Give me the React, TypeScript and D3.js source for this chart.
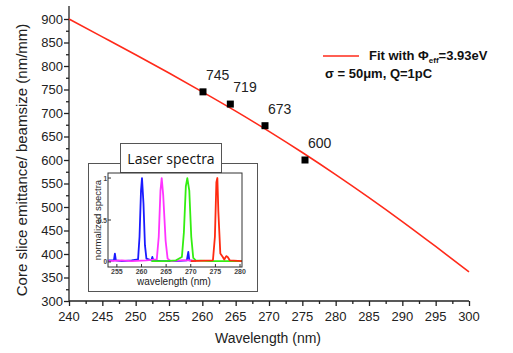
import { useEffect, useRef } from 'react';
import * as d3 from 'd3';

// measured points: wavelength (nm) -> emittance/beamsize (nm/mm)
const pointWavelengths = [260.1, 264.2, 269.4, 275.4];
const pointValues = [745, 719, 673, 600];
const pointLabels = ['745', '719', '673', '600'];

// fit curve
const fitWavelengths = [240, 245, 250, 255, 260, 265, 270, 275, 280, 285, 290, 295, 300];
const fitValues = [900, 862, 824, 785, 745, 704, 661, 616, 569, 520, 469, 416, 362];

const xTicks = [240, 245, 250, 255, 260, 265, 270, 275, 280, 285, 290, 295, 300];
const yTicks = [300, 350, 400, 450, 500, 550, 600, 650, 700, 750, 800, 850, 900];

// inset spectra, [wavelength, normalized intensity]
const blueSpectrum: [number, number][] = [
  [253.3, 0.02], [254.4, 0.02], [254.6, 0.1], [254.8, 0.02], [256, 0.01], [258, 0.02],
  [259.3, 0.03], [259.6, 0.3], [259.9, 0.85], [260.1, 1], [260.4, 0.7], [260.7, 0.2],
  [261, 0.04], [262, 0.02], [262.2, 0.06], [262.4, 0.02], [264, 0.01], [267, 0.01],
  [269.2, 0.02], [269.5, 0.12], [269.7, 0.02], [271, 0.01],
];
const magentaSpectrum: [number, number][] = [
  [253.3, 0.01], [256, 0.02], [258, 0.01], [261, 0.02], [263.1, 0.03], [263.5, 0.3],
  [263.85, 0.85], [264.1, 1], [264.4, 0.8], [264.9, 0.25], [265.3, 0.04], [266, 0.01],
  [268, 0.02], [270, 0.02], [271, 0.01],
];
const greenSpectrum: [number, number][] = [
  [262, 0.01], [265, 0.01], [267, 0.02], [268.2, 0.06], [268.6, 0.35], [269.0, 0.9],
  [269.3, 1], [269.7, 0.85], [270.1, 0.3], [270.5, 0.05], [271, 0.02], [274, 0.01],
  [280.4, 0.01],
];
const redSpectrum: [number, number][] = [
  [270, 0.01], [274.5, 0.02], [274.9, 0.3], [275.2, 0.95], [275.4, 1], [275.6, 0.6],
  [276, 0.1], [276.5, 0.06], [276.8, 0.03], [277.2, 0.07], [277.5, 0.06], [277.9, 0.02],
  [280.4, 0.01],
];
const spectra = [
  { color: '#1a1aff', data: blueSpectrum },
  { color: '#ff33ff', data: magentaSpectrum },
  { color: '#33ee11', data: greenSpectrum },
  { color: '#ff2a10', data: redSpectrum },
];
const insetXTicks = [255, 260, 265, 270, 275, 280];
const insetYTicks = [0, 0.5, 1];

const FONT = '"Liberation Sans", Arial, sans-serif';

export default function App() {
  const svgRef = useRef<SVGSVGElement>(null);

  useEffect(() => {
    if (!svgRef.current) return;
    const svg = d3.select(svgRef.current);
    svg.selectAll('*').remove();

    const x = d3.scaleLinear().domain([240, 300]).range([69, 469]);
    const y = d3.scaleLinear().domain([300, 900]).range([301, 19]);

    // axes
    const xAxis = svg.append('g').attr('transform', 'translate(0,301)');
    xAxis.call(d3.axisBottom(x).tickValues(d3.range(240, 300.1, 2.5)).tickSize(3).tickFormat(() => ''));
    xAxis.call(g => g.selectAll('.tick').filter((d: any) => d % 5 === 0).select('line').attr('y2', 5));
    xAxis.selectAll('.domain').attr('d', 'M69,0H469');
    svg.append('g').selectAll('text').data(xTicks).join('text')
      .attr('x', d => x(d)).attr('y', 321)
      .attr('text-anchor', 'middle')
      .style('font-family', FONT).style('font-size', '13px').attr('fill', '#222')
      .text(d => d);

    const yAxis = svg.append('g').attr('transform', 'translate(69,0)');
    yAxis.call(d3.axisLeft(y).tickValues(d3.range(300, 900.1, 25)).tickSize(3).tickFormat(() => ''));
    yAxis.call(g => g.selectAll('.tick').filter((d: any) => d % 50 === 0).select('line').attr('x2', -5));
    yAxis.selectAll('.domain').attr('d', 'M0,301V6');
    svg.append('g').selectAll('text').data(yTicks).join('text')
      .attr('x', 63).attr('y', d => y(d) + 4.5)
      .attr('text-anchor', 'end')
      .style('font-family', FONT).style('font-size', '13px').attr('fill', '#222')
      .text(d => d);

    svg.selectAll('.domain, .tick line').attr('stroke', '#222').attr('stroke-width', 1.3);

    svg.append('text')
      .attr('x', 268).attr('y', 343).attr('text-anchor', 'middle')
      .style('font-family', FONT).style('font-size', '14px').attr('fill', '#222')
      .text('Wavelength (nm)');
    svg.append('text')
      .attr('transform', 'translate(27,160) rotate(-90)').attr('text-anchor', 'middle')
      .style('font-family', FONT).style('font-size', '15px').attr('fill', '#222')
      .text('Core slice emittance/ beamsize (nm/mm)');

    // fit curve
    const fitLine = d3.line<number>()
      .x((_, i) => x(fitWavelengths[i]))
      .y(d => y(d))
      .curve(d3.curveNatural);
    svg.append('path').datum(fitValues)
      .attr('d', fitLine).attr('fill', 'none')
      .attr('stroke', '#ff2a1a').attr('stroke-width', 1.6);

    // measured points
    pointWavelengths.forEach((w, i) => {
      svg.append('rect')
        .attr('x', x(w) - 3.5).attr('y', y(pointValues[i]) - 3.5)
        .attr('width', 7).attr('height', 7).attr('fill', '#000');
      svg.append('text')
        .attr('x', x(w) + 3).attr('y', y(pointValues[i]) - 12)
        .style('font-family', FONT).style('font-size', '14px').attr('fill', '#222')
        .text(pointLabels[i]);
    });

    // legend
    svg.append('line').attr('x1', 323).attr('x2', 359).attr('y1', 56).attr('y2', 56)
      .attr('stroke', '#ff2a1a').attr('stroke-width', 1.6);
    const leg = svg.append('text').attr('x', 369).attr('y', 60)
      .style('font-family', FONT).style('font-size', '13px').style('font-weight', 'bold').attr('fill', '#111');
    leg.append('tspan').text('Fit with Φ');
    leg.append('tspan').attr('dy', 3).style('font-size', '8px').text('eff');
    leg.append('tspan').attr('dy', -3).text('=3.93eV');
    svg.append('text').attr('x', 325).attr('y', 78)
      .style('font-family', FONT).style('font-size', '13px').style('font-weight', 'bold').attr('fill', '#111')
      .text('σ = 50μm, Q=1pC');

    // inset
    const inset = svg.append('g');
    inset.append('rect').attr('x', 88.5).attr('y', 163.5).attr('width', 169).attr('height', 128)
      .attr('fill', '#fff').attr('stroke', '#555').attr('stroke-width', 1);
    inset.append('rect').attr('x', 120.5).attr('y', 143.5).attr('width', 101).attr('height', 29)
      .attr('fill', '#fff').attr('stroke', '#555').attr('stroke-width', 1);
    inset.append('text').attr('x', 171).attr('y', 164).attr('text-anchor', 'middle')
      .style('font-family', '"Open Sans", sans-serif').style('font-size', '14px').attr('fill', '#111')
      .text('Laser spectra');

    const ix = d3.scaleLinear().domain([253.2, 280.4]).range([108, 242]);
    const iy = d3.scaleLinear().domain([-0.06, 1.06]).range([267, 173]);

    const spLine = d3.line<[number, number]>().x(d => ix(d[0])).y(d => iy(d[1]));
    spectra.forEach(s => {
      inset.append('path').datum(s.data).attr('d', spLine)
        .attr('fill', 'none').attr('stroke', s.color).attr('stroke-width', 1.8)
        .attr('stroke-linejoin', 'round');
    });

    inset.append('rect').attr('x', 108).attr('y', 173).attr('width', 134).attr('height', 94)
      .attr('fill', 'none').attr('stroke', '#333').attr('stroke-width', 1);
    inset.append('g').selectAll('line').data(insetXTicks).join('line')
      .attr('x1', d => ix(d)).attr('x2', d => ix(d)).attr('y1', 267).attr('y2', 264)
      .attr('stroke', '#333');
    inset.append('g').selectAll('text').data(insetXTicks).join('text')
      .attr('x', d => ix(d)).attr('y', 274).attr('text-anchor', 'middle')
      .style('font-family', FONT).style('font-size', '7px').style('font-weight', 'bold').attr('fill', '#444')
      .text(d => d);
    inset.append('g').selectAll('line').data(insetYTicks).join('line')
      .attr('x1', 108).attr('x2', 111).attr('y1', d => iy(d)).attr('y2', d => iy(d))
      .attr('stroke', '#333');
    inset.append('g').selectAll('text').data(insetYTicks).join('text')
      .attr('x', 107).attr('y', d => iy(d) + 2.5).attr('text-anchor', 'end')
      .style('font-family', FONT).style('font-size', '6.5px').style('font-weight', 'bold').attr('fill', '#444')
      .text(d => d);
    inset.append('text').attr('x', 174).attr('y', 285).attr('text-anchor', 'middle')
      .style('font-family', FONT).style('font-size', '10px').attr('fill', '#222')
      .text('wavelength (nm)');
    inset.append('text').attr('transform', 'translate(101,220) rotate(-90)').attr('text-anchor', 'middle')
      .style('font-family', FONT).style('font-size', '9.5px').attr('fill', '#222')
      .text('normalized spectra');
  }, []);

  return (
    <svg
      ref={svgRef}
      width={513}
      height={353}
      style={{ position: 'absolute', left: 0, top: 0, background: '#fff' }}
    />
  );
}
